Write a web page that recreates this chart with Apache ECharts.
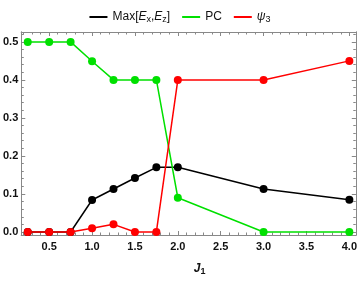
<!DOCTYPE html>
<html><head><meta charset="utf-8">
<script src="https://cdn.jsdelivr.net/npm/echarts@6/dist/echarts.min.js"></script>
<style>html,body{margin:0;padding:0;background:#fff}#c{width:360px;height:281px}</style>
</head><body><div id="c"></div>
<script>
const xVals = [0.25, 0.5, 0.75, 1.0, 1.25, 1.5, 1.75, 2.0, 3.0, 4.0];
const maxE = [0, 0, 0, 0.084, 0.113, 0.142, 0.170, 0.170, 0.113, 0.085];
const pc = [0.5, 0.5, 0.5, 0.449, 0.40, 0.40, 0.40, 0.090, 0, 0];
const psi3 = [0, 0, 0, 0.01, 0.02, 0, 0, 0.40, 0.40, 0.45];
const xMajor = [0.5, 1.0, 1.5, 2.0, 2.5, 3.0, 3.5, 4.0];
const yMajor = [0.0, 0.1, 0.2, 0.3, 0.4, 0.5];
const xMinor = []; for (let i = 2; i <= 40; i++) xMinor.push(+(i / 10).toFixed(2));
const yMinor = []; for (let i = 0; i <= 26; i++) yMinor.push(+(i / 50).toFixed(3));
const names = ['MaxE', 'PC', 'psi3'];
const colors = ['#000000', '#00e000', '#ff0000'];

const XMIN = 0.175, XMAX = 4.075, YMIN = -0.008, YMAX = 0.526;
const frame = '#888888';
function xAx(pos, vals, len, labels) {
  return {
    type: 'value', position: pos, min: XMIN, max: XMAX,
    axisLine: { show: true, onZero: false, lineStyle: { color: frame, width: 1 } },
    axisTick: { show: true, inside: true, length: len, customValues: vals, lineStyle: { color: frame } },
    axisLabel: labels ? { show: true, customValues: xMajor, formatter: v => v.toFixed(1),
      fontFamily: 'Liberation Sans', fontWeight: 'bold', fontSize: 11, color: '#111', margin: 6 } : { show: false },
    splitLine: { show: false },
    name: labels ? '{j|J}{s|1}' : '', nameLocation: 'middle', nameGap: 27,
    nameTextStyle: { fontFamily: 'Liberation Sans', fontSize: 12, color: '#111', padding: [0, 0, 0, 22],
      rich: {
        j: { fontFamily: 'Liberation Sans', fontWeight: 'bold', fontStyle: 'italic', fontSize: 12, color: '#111' },
        s: { fontFamily: 'Liberation Sans', fontWeight: 'bold', fontSize: 9, color: '#111', padding: [5, 0, 0, 0] }
      } }
  };
}
function yAx(pos, vals, len, labels) {
  return {
    type: 'value', position: pos, min: YMIN, max: YMAX,
    axisLine: { show: true, onZero: false, lineStyle: { color: frame, width: 1 } },
    axisTick: { show: true, inside: true, length: len, customValues: vals, lineStyle: { color: frame } },
    axisLabel: labels ? { show: true, customValues: yMajor, formatter: v => v.toFixed(1),
      fontFamily: 'Liberation Sans', fontWeight: 'bold', fontSize: 11, color: '#111', margin: 3 } : { show: false },
    splitLine: { show: false }
  };
}
const data = [maxE, pc, psi3];
const chart = echarts.init(document.getElementById('c'), null, { renderer: 'canvas' });
chart.setOption({
  animation: false,
  backgroundColor: '#fff',
  grid: { left: 21, right: 4, top: 32, bottom: 42, containLabel: false },
  legend: {
    top: 6, left: 'center', itemWidth: 18, itemHeight: 2, itemGap: 12,
    icon: 'rect',
    data: names.map((n, i) => ({ name: n, itemStyle: { color: colors[i] } })),
    textStyle: {
      fontFamily: 'Liberation Sans', fontSize: 12, color: '#111',
      rich: {
        n: { fontSize: 12, fontFamily: 'Liberation Sans', color: '#111' },
        i: { fontSize: 12, fontStyle: 'italic', fontFamily: 'Liberation Sans', color: '#111' },
        s: { fontSize: 9, fontFamily: 'Liberation Sans', color: '#111', padding: [5, 0, 0, 0] }
      }
    },
    formatter: function (n) {
      if (n === 'MaxE') return '{n|Max[}{i|E}{s|x}{n|,}{i|E}{s|z}{n|]}';
      if (n === 'psi3') return '{i|ψ}{s|3}';
      return '{n|PC}';
    }
  },
  xAxis: [xAx('bottom', xMajor, 4, true), xAx('bottom', xMinor, 2.5, false),
          xAx('top', xMajor, 4, false), xAx('top', xMinor, 2.5, false)],
  yAxis: [yAx('left', yMajor, 4, true), yAx('left', yMinor, 2.5, false),
          yAx('right', yMajor, 4, false), yAx('right', yMinor, 2.5, false)],
  series: names.map((n, i) => ({
    name: n, type: 'line', xAxisIndex: 0, yAxisIndex: 0,
    data: xVals.map((x, k) => [x, data[i][k]]),
    symbol: 'circle', symbolSize: 8, showSymbol: true,
    lineStyle: { color: colors[i], width: 1.5 },
    itemStyle: { color: colors[i] },
    z: 2 + i
  }))
});
</script></body></html>
